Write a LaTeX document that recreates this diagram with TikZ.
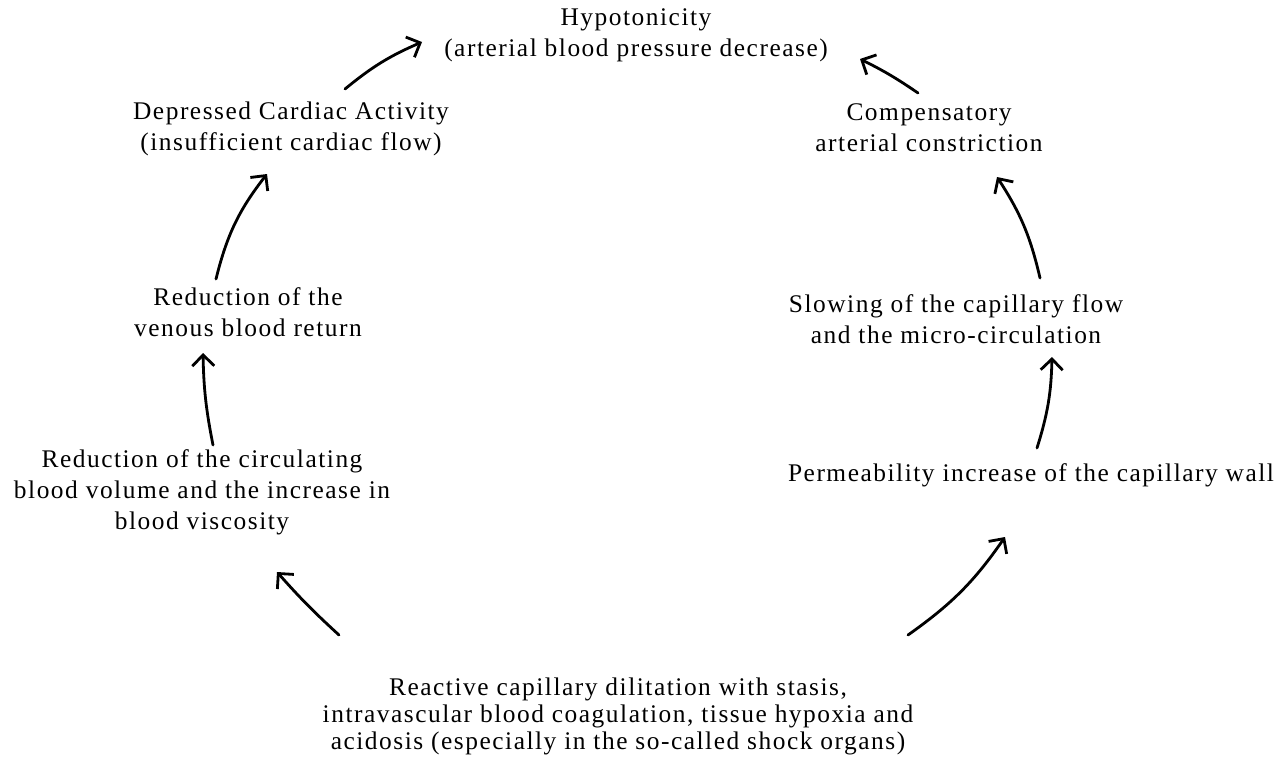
\documentclass[tikz,border=0pt]{standalone}
\usepackage{fontspec}
\setmainfont{Liberation Serif}[LetterSpace=6]
\usetikzlibrary{arrows.meta}
\tikzset{
  lbl/.style={align=center, inner sep=0pt, font=\fontsize{12.7}{15.5}\selectfont},
  lblb/.style={align=center, inner sep=0pt, font=\fontsize{12.7}{13.5}\selectfont},
  cyc/.style={line width=1.4pt, line cap=round, -{Straight Barb[length=5.5pt,width=11pt,line width=1.4pt]}}
}
\begin{document}
\begin{tikzpicture}[x=0.5pt,y=-0.5pt]
\useasboundingbox[fill=white] (0,0) rectangle (1284,760);
\node[lbl] (hypo) at (636,35) {Hypotonicity\\(arterial blood pressure decrease)};
\node[lbl] (dep) at (291,129) {Depressed Cardiac Activity\\(insufficient cardiac flow)};
\node[lbl] (comp) at (929,128) {Compensatory\\arterial constriction};
\node[lbl] (redven) at (248,312) {Reduction of the\\venous blood return};
\node[lbl] (slow) at (956,319) {Slowing of the capillary flow\\and the micro-circulation};
\node[lbl] (redcirc) at (202,492) {Reduction of the circulating\\blood volume and the increase in\\blood viscosity};
\node[lbl] (perm) at (1031,475) {Permeability increase of the capillary wall};
\node[lblb] (react) at (618,716) {Reactive capillary dilitation with stasis,\\intravascular blood coagulation, tissue hypoxia and\\acidosis (especially in the so-called shock organs)};
% connector end points
\coordinate (a1s) at (345,89);   \coordinate (a1e) at (422,42);
\coordinate (a2s) at (918,93);   \coordinate (a2e) at (860,59);
\coordinate (a3s) at (216,279);  \coordinate (a3e) at (267,174);
\coordinate (a4s) at (1040,278); \coordinate (a4e) at (997,177);
\coordinate (a5s) at (213,445);  \coordinate (a5e) at (203,353);
\coordinate (a6s) at (1037,448); \coordinate (a6e) at (1052,357);
\coordinate (a7s) at (339,635);  \coordinate (a7e) at (277,572);
\coordinate (a8s) at (908,635);  \coordinate (a8e) at (1005,537);
\draw[cyc] (a1s) to[bend left=8] (a1e);
\draw[cyc] (a2s) to[bend right=4] (a2e);
\draw[cyc] (a3s) to[bend left=12] (a3e);
\draw[cyc] (a4s) to[bend right=10] (a4e);
\draw[cyc] (a5s) to[bend left=5] (a5e);
\draw[cyc] (a6s) to[bend right=8] (a6e);
\draw[cyc] (a7s) to[bend left=3] (a7e);
\draw[cyc] (a8s) to[bend right=10] (a8e);
\end{tikzpicture}
\end{document}
